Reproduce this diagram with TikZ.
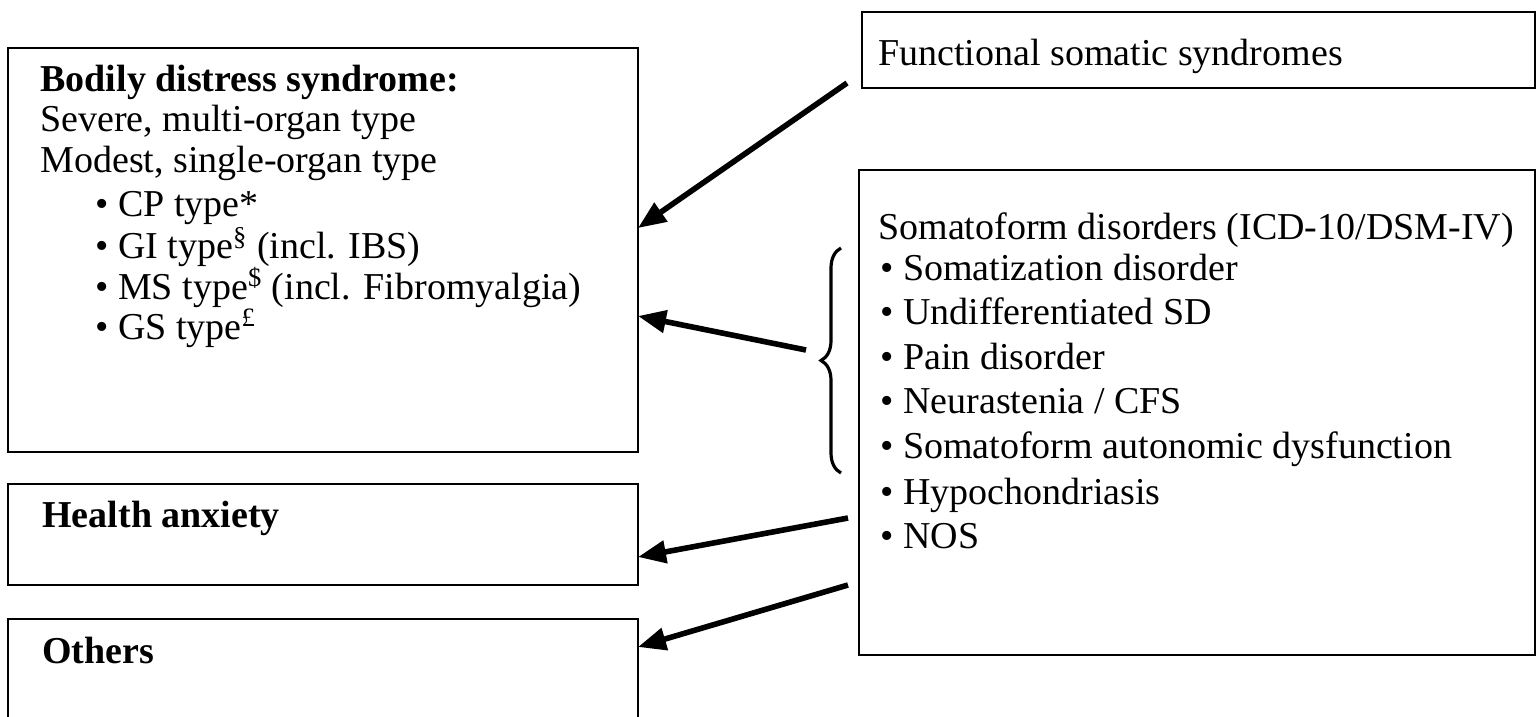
\documentclass[tikz,border=0pt]{standalone}
\usepackage{fontspec}
\setmainfont{Liberation Serif}
\usetikzlibrary{arrows.meta,calc,decorations.pathreplacing}
\begin{document}
\begin{tikzpicture}[x=0.5pt,y=-0.5pt,
  box/.style={draw,line width=1pt,inner sep=0pt,outer sep=0pt,rectangle},
  txt/.style={anchor=base west,inner sep=0pt,font=\fontsize{19pt}{22pt}\selectfont},
  btxt/.style={txt,font=\fontsize{19pt}{22pt}\selectfont\bfseries},
  link/.style={line width=2.8pt,-{Triangle[length=14pt,width=11pt]}},
  bracestyle/.style={line width=1.6pt,decorate,decoration={brace,amplitude=10pt}}]
\useasboundingbox (0,0) rectangle (1536,717);

% boxes
\node[box,minimum width=315pt,minimum height=202pt] (bds) at (323,250) {};
\node[box,minimum width=315pt,minimum height=50.5pt] (ha) at (323,534.5) {};
\node[box,minimum width=315pt,minimum height=60.5pt] (oth) at (323,679.5) {};
\node[box,minimum width=336.5pt,minimum height=38pt] (fss) at (1198.5,50) {};
\node[box,minimum width=338pt,minimum height=242.5pt] (sf) at (1197,412.5) {};

% bodily distress syndrome
\node[btxt] (b0) at (40,92) {Bodily distress syndrome:};
\node[txt] (b1) at (40,132) {Severe, multi-organ type};
\node[txt] (b2) at (40,172) {Modest, single-organ type};
\node[txt] (b3) at (95,216) {\textbullet\ CP type*};
\node[txt] (b4) at (95,258) {\textbullet\ GI type\textsuperscript{\S} (incl. IBS)};
\node[txt] (b5) at (95,299) {\textbullet\ MS type\textsuperscript{\$} (incl. Fibromyalgia)};
\node[txt] (b6) at (95,339) {\textbullet\ GS type\textsuperscript{\pounds}};

% other left boxes
\node[btxt] (h0) at (42,527) {Health anxiety};
\node[btxt] (o0) at (42,663) {Others};

% right boxes
\node[txt] (f0) at (878,66) {Functional somatic syndromes};
\node[txt] (s0) at (878,239) {Somatoform disorders (ICD-10/DSM-IV)};
\node[txt] (s1) at (880,280) {\textbullet\ Somatization disorder};
\node[txt] (s2) at (880,324) {\textbullet\ Undifferentiated SD};
\node[txt] (s3) at (880,369) {\textbullet\ Pain disorder};
\node[txt] (s4) at (880,413) {\textbullet\ Neurastenia / CFS};
\node[txt] (s5) at (880,458) {\textbullet\ Somatoform autonomic dysfunction};
\node[txt] (s6) at (880,504) {\textbullet\ Hypochondriasis};
\node[txt] (s7) at (880,548) {\textbullet\ NOS};

% brace grouping the first five somatoform items
\coordinate (brlo) at (841,473);
\coordinate (brhi) at (841,248);
\draw[bracestyle] (brlo) -- (brhi);

% arrow tails
\coordinate (t1) at (847,83);
\coordinate (t2) at (806,350);
\coordinate (t3) at (848,518);
\coordinate (t4) at (848,585);

% arrows
\draw[link] (t1) -- ($(bds.north east)+(0,180)$);
\draw[link] (t2) -- ($(bds.north east)+(0,268)$);
\draw[link] (t3) -- ($(ha.north east)+(0,73)$);
\draw[link] (t4) -- ($(oth.north east)+(0,28)$);
\end{tikzpicture}
\end{document}
